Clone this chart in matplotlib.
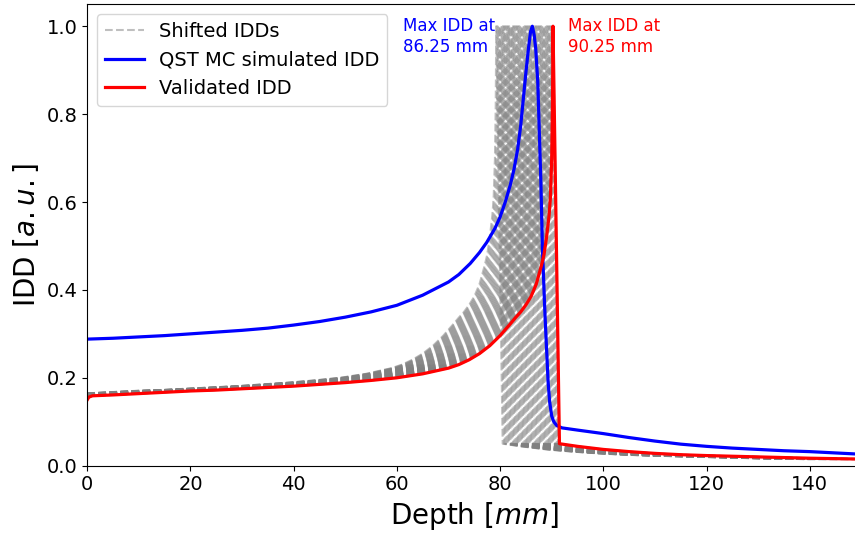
import numpy as np
import matplotlib
matplotlib.use('Agg')
import matplotlib.pyplot as plt

# Validated IDD
depth_val = [0, 0.3, 1, 5, 10, 15, 20, 25, 30, 35, 40, 45, 50, 55, 60, 65, 70, 72, 74, 76, 78,
             80, 82, 83, 84, 85, 86, 87, 88, 88.5, 89, 89.5, 89.75, 90, 90.15, 90.25,
             91.5, 95, 100, 105, 110, 115, 120, 130, 140, 150]
idd_val = [0.150, 0.156, 0.159, 0.161, 0.164, 0.167, 0.170, 0.172, 0.175, 0.178, 0.181, 0.185,
           0.189, 0.194, 0.200, 0.209, 0.222, 0.230, 0.241, 0.255, 0.273, 0.296, 0.323, 0.337,
           0.350, 0.366, 0.385, 0.413, 0.455, 0.480, 0.520, 0.570, 0.610, 0.700, 0.820, 1.0,
           0.050, 0.044, 0.037, 0.032, 0.028, 0.025, 0.023, 0.020, 0.017, 0.015]

# QST MC simulated IDD
depth_mc = [0, 5, 10, 15, 20, 25, 30, 35, 40, 45, 50, 55, 60, 65, 70, 72, 74.2, 76, 77.4, 79,
            80, 81, 82, 82.7, 83.4, 84, 84.5, 85, 85.5, 85.9, 86.25, 86.6, 86.9, 87.3, 87.5,
            87.9, 88.2, 88.7, 89.3, 89.6, 90.0, 90.4, 91.0, 92, 95, 100, 105, 110, 115, 120,
            125, 130, 135, 140, 145, 150]
idd_mc = [0.288, 0.290, 0.293, 0.296, 0.300, 0.304, 0.308, 0.313, 0.320, 0.328, 0.338, 0.350,
          0.365, 0.388, 0.418, 0.435, 0.460, 0.485, 0.508, 0.540, 0.566, 0.600, 0.640, 0.675,
          0.720, 0.775, 0.835, 0.895, 0.950, 0.988, 1.0, 0.980, 0.949, 0.873, 0.797, 0.645,
          0.494, 0.342, 0.191, 0.145, 0.113, 0.100, 0.091, 0.086, 0.081, 0.073, 0.064, 0.056,
          0.049, 0.044, 0.040, 0.037, 0.034, 0.032, 0.029, 0.026]

# shifts applied to the validated IDD (mm)
shifts = [-11.0, -10.75, -10.5, -10.25, -10.0, -9.75, -9.5, -9.25, -9.0, -8.75, -8.5, -8.25,
          -8.0, -7.75, -7.5, -7.25, -7.0, -6.75, -6.5, -6.25, -6.0, -5.75, -5.5, -5.25,
          -5.0, -4.75, -4.5, -4.25, -4.0, -3.75, -3.5, -3.25, -3.0, -2.75, -2.5, -2.25,
          -2.0, -1.75, -1.5, -1.25, -1.0, -0.75, -0.5, -0.25, 0.0]

peak_mc = 86.25
peak_val = 90.25

fig = plt.figure(figsize=(8.55, 5.33), dpi=100)
ax = fig.add_axes([0.1021, 0.1263, 0.9053, 0.8657])

for i, s in enumerate(shifts):
    xs = np.array(depth_val) + s
    ys = np.array(idd_val)
    # curve starts at the axis (depth 0)
    keep = xs > 0
    xs_c = np.concatenate([[0], xs[keep]])
    ys_c = np.concatenate([[np.interp(0, xs, ys)], ys[keep]])
    ax.plot(xs_c, ys_c, '--', color='gray', alpha=0.5, lw=1.5,
            label='Shifted IDDs' if i == 0 else None)

ax.plot(depth_mc, idd_mc, color='blue', lw=2.3, label='QST MC simulated IDD')
ax.plot(depth_val, idd_val, color='red', lw=2.3, label='Validated IDD')

ax.text(peak_mc - 25, 1.02, f'Max IDD at\n{peak_mc} mm', color='blue', fontsize=12,
        ha='left', va='top')
ax.text(peak_val + 3, 1.02, f'Max IDD at\n{peak_val} mm', color='red', fontsize=12,
        ha='left', va='top')

ax.set_xlim(0, 150)
ax.set_ylim(0, 1.05)
ax.set_xlabel(r'Depth [$mm$]', fontsize=20)
ax.set_ylabel(r'IDD [$a.u.$]', fontsize=20)
ax.tick_params(labelsize=14)
ax.legend(loc='upper left', fontsize=14)

fig.savefig('out.png', dpi=100)
